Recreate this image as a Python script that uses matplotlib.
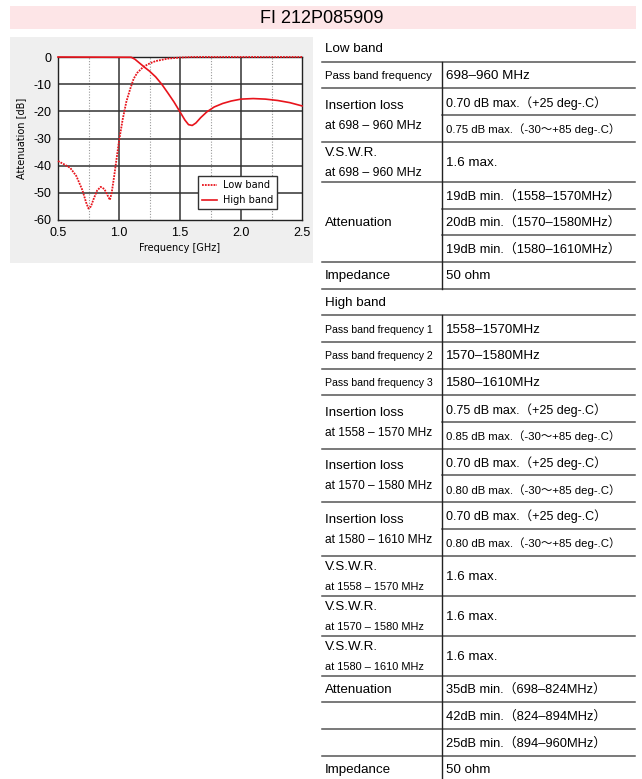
import matplotlib
matplotlib.use("Agg")
import matplotlib.pyplot as plt
from matplotlib.patches import Rectangle

# ---- chart data ----
low_f = [0.50, 0.55, 0.60, 0.65, 0.70, 0.73, 0.75, 0.77, 0.79, 0.82, 0.85, 0.88,
         0.905, 0.925, 0.94, 0.96, 0.98, 1.00, 1.03, 1.06, 1.09, 1.12, 1.15, 1.20,
         1.25, 1.30, 1.40, 1.50, 1.60, 2.50]
low_db = [-38.3, -39.5, -40.8, -43.8, -49.0, -53.5, -55.8, -55.0, -52.5, -49.2, -47.8, -48.6,
          -50.8, -52.6, -50.0, -44.0, -37.5, -31.0, -23.0, -16.5, -12.0, -8.0, -5.8, -3.6,
          -2.4, -1.5, -0.6, -0.2, 0.0, 0.0]

high_f = [0.50, 1.10, 1.13, 1.17, 1.21, 1.25, 1.30, 1.35, 1.40, 1.45, 1.50, 1.54, 1.57,
          1.60, 1.63, 1.67, 1.72, 1.78, 1.85, 1.92, 2.00, 2.10, 2.20, 2.30, 2.40, 2.50]
high_db = [0.0, -0.1, -0.8, -2.3, -3.8, -5.2, -7.3, -10.0, -13.2, -16.5, -20.2, -23.2, -24.9,
           -25.2, -24.3, -22.3, -20.2, -18.4, -17.1, -16.2, -15.5, -15.3, -15.5, -16.0, -16.8, -18.0]

x_ticks = [0.5, 1.0, 1.5, 2.0, 2.5]
y_ticks = [0, -10, -20, -30, -40, -50, -60]
minor_x = [0.75, 1.25, 1.75, 2.25]

title = "FI 212P085909"

# ---- table data ----
low_rows = [
    ("Pass band frequency", ["698–960 MHz"]),
    ("Insertion loss\nat 698 – 960 MHz", ["0.70 dB max.（+25 deg-.C）", "0.75 dB max.（-30～+85 deg-.C）"]),
    ("V.S.W.R.\nat 698 – 960 MHz", ["1.6 max."]),
    ("Attenuation", ["19dB min.（1558–1570MHz）", "20dB min.（1570–1580MHz）", "19dB min.（1580–1610MHz）"]),
    ("Impedance", ["50 ohm"]),
]
high_rows = [
    ("Pass band frequency 1", ["1558–1570MHz"]),
    ("Pass band frequency 2", ["1570–1580MHz"]),
    ("Pass band frequency 3", ["1580–1610MHz"]),
    ("Insertion loss\nat 1558 – 1570 MHz", ["0.75 dB max.（+25 deg-.C）", "0.85 dB max.（-30～+85 deg-.C）"]),
    ("Insertion loss\nat 1570 – 1580 MHz", ["0.70 dB max.（+25 deg-.C）", "0.80 dB max.（-30～+85 deg-.C）"]),
    ("Insertion loss\nat 1580 – 1610 MHz", ["0.70 dB max.（+25 deg-.C）", "0.80 dB max.（-30～+85 deg-.C）"]),
    ("V.S.W.R.\nat 1558 – 1570 MHz", ["1.6 max."]),
    ("V.S.W.R.\nat 1570 – 1580 MHz", ["1.6 max."]),
    ("V.S.W.R.\nat 1580 – 1610 MHz", ["1.6 max."]),
    ("Attenuation", ["35dB min.（698–824MHz）"]),
    ("", ["42dB min.（824–894MHz）"]),
    ("", ["25dB min.（894–960MHz）"]),
    ("Impedance", ["50 ohm"]),
]

FONT = ["Liberation Sans", "Noto Sans CJK JP", "DejaVu Sans"]
RED = "#e8141c"

W, H = 642, 779
fig = plt.figure(figsize=(W / 100, H / 100), dpi=100)

# background axes in pixel coordinates
bg = fig.add_axes([0, 0, 1, 1])
bg.set_xlim(0, W)
bg.set_ylim(H, 0)
bg.axis("off")

bg.add_patch(Rectangle((10, 6), 626, 23, color="#fde5e7", lw=0))
bg.text(322, 18, title, ha="center", va="center", fontsize=13, family=FONT)
bg.add_patch(Rectangle((10, 37), 303, 226, color="#efefef", lw=0))

# ---- table ----
x_left, x_div, x_right = 322, 442, 635
unit, tall = 26.7, 40.0
line_c = "#555555"


def label_size(label, j):
    if label.startswith("Pass band frequency "):
        return 7.6
    if label.startswith("Pass band"):
        return 8.2
    if j == 1:
        if "698" in label:
            return 8.8
        if label.startswith("V.S.W.R."):
            return 7.9
        return 8.6
    return 9.6


def value_size(v):
    if "～" in v:
        return 8.2
    if "max.（" in v:
        return 9.0
    if "min.（" in v:
        return 9.3
    return 9.6


def draw_block(y, header, rows):
    bg.text(x_left + 3, y + unit / 2 + 1, header, ha="left", va="center", fontsize=9.6, family=FONT)
    y += unit
    bg.plot([x_left, x_right], [y, y], color=line_c, lw=1.1)
    div_top = y
    for label, values in rows:
        h = tall if label.startswith("V.S.W.R.") else unit
        g_top = y
        for i, v in enumerate(values):
            bg.text(x_div + 4, y + h / 2 + 1, v, ha="left", va="center",
                    fontsize=value_size(v), family=FONT)
            y += h
            if i < len(values) - 1:
                bg.plot([x_div, x_right], [y, y], color=line_c, lw=1.1)
        lines = label.split("\n")
        mid = (g_top + y) / 2
        for j, ln in enumerate(lines):
            bg.text(x_left + 3, mid + (j - (len(lines) - 1) / 2) * 20 + 1, ln,
                    ha="left", va="center", fontsize=label_size(label, j), family=FONT)
        if y < H - 2:
            bg.plot([x_left, x_right], [y, y], color=line_c, lw=1.1)
    bg.plot([x_div, x_div], [div_top, min(y, H)], color="#222222", lw=1.0)
    return y


y = draw_block(35.0, "Low band", low_rows)
y = draw_block(y, "High band", high_rows)

# ---- chart ----
ax = fig.add_axes([58 / W, 1 - 220 / H, 244 / W, 163 / H])
ax.set_facecolor("white")
for xm in minor_x:
    ax.axvline(xm, color="#999999", lw=0.8, ls=(0, (1, 1.5)), zorder=1)
for xv in x_ticks[1:-1]:
    ax.axvline(xv, color="#333333", lw=1.1, zorder=1)
for yv in y_ticks[1:-1]:
    ax.axhline(yv, color="#333333", lw=1.1, zorder=1)

ax.plot(low_f, low_db, color=RED, lw=1.3, ls=(0, (1, 0.6)), label="Low band",
        zorder=5, clip_on=False)
ax.plot(high_f, high_db, color=RED, lw=1.2, label="High band", zorder=5, clip_on=False)

ax.set_xlim(0.5, 2.5)
ax.set_ylim(-60, 0)
ax.set_xticks(x_ticks)
ax.set_xticklabels([f"{t:.1f}" for t in x_ticks], fontsize=9, family=FONT)
ax.set_yticks(y_ticks)
ax.set_yticklabels([str(t) for t in y_ticks], fontsize=9, family=FONT)
ax.tick_params(length=0, pad=5)
for s in ax.spines.values():
    s.set_color("#222222")
    s.set_linewidth(1.0)
    s.set_zorder(2)
ax.set_xlabel("Frequency [GHz]", fontsize=7, family="DejaVu Sans", labelpad=3)
ax.set_ylabel("Attenuation [dB]", fontsize=7, family="DejaVu Sans", labelpad=5)

leg = ax.legend(loc="lower right", bbox_to_anchor=(0.898, 0.067), borderaxespad=0,
                fancybox=False, edgecolor="#333333", framealpha=1, fontsize=7,
                handlelength=1.6, handletextpad=0.6, borderpad=0.4, labelspacing=0.5)
leg.get_frame().set_linewidth(1.0)
leg.set_zorder(6)
for t in leg.get_texts():
    t.set_family("DejaVu Sans")

fig.savefig("out.png", dpi=100)
